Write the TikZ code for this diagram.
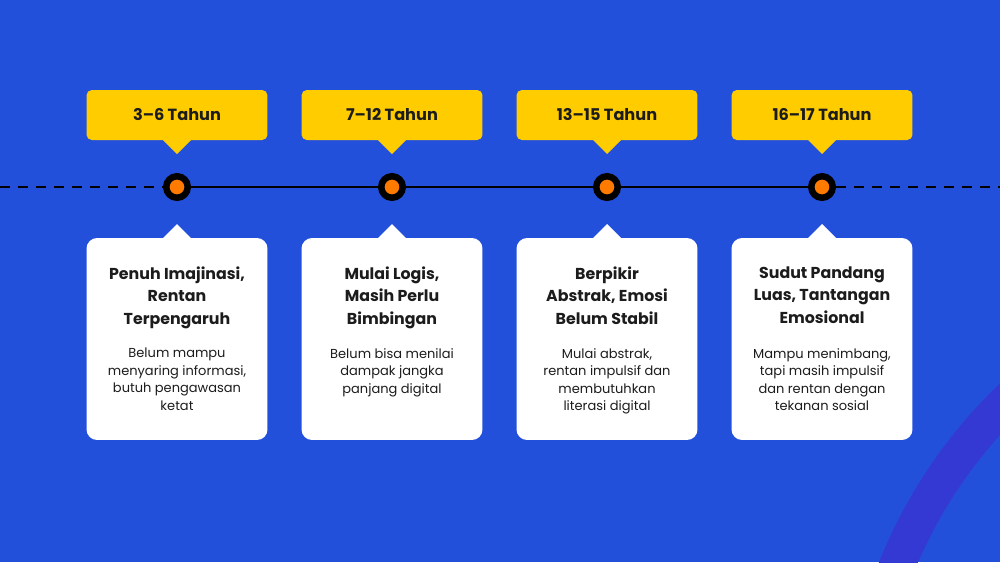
\documentclass[tikz,border=0pt]{standalone}
\usepackage{fontspec}
\setmainfont{Poppins}
\usepackage{tikz}
\usetikzlibrary{positioning}

\definecolor{bgblue}{HTML}{2350DB}
\definecolor{arcblue}{HTML}{3339D2}
\definecolor{tagyellow}{HTML}{FFCC00}
\definecolor{dotorange}{HTML}{FF7A00}
\definecolor{ink}{HTML}{1C1C1C}

\tikzset{
  tag/.style={fill=tagyellow, rounded corners=3pt, minimum width=3.62cm,
    minimum height=1cm, text=ink, font=\bfseries\fontsize{9.2}{11}\selectfont},
  card/.style={fill=white, rounded corners=6pt, minimum width=3.62cm,
    minimum height=4.04cm},
  dot/.style={circle, fill=dotorange, draw=black, line width=0.13cm,
    minimum size=0.43cm, inner sep=0pt},
  ttl/.style={anchor=north, inner sep=0pt, align=center, text=ink,
    font=\bfseries\fontsize{9}{12.8}\selectfont},
  bd/.style={anchor=north, inner sep=0pt, align=center, text=ink,
    font=\fontsize{7.4}{9.9}\selectfont},
  timeline/.style={black, line width=0.05cm},
  dashline/.style={timeline, dash pattern=on 0.2cm off 0.16cm}
}

\begin{document}
\begin{tikzpicture}[x=0.02cm, y=-0.02cm]
    \fill[bgblue] (0,0) rectangle (1000,562);
    \begin{scope}
      \clip (0,0) rectangle (1000,562);
      \draw[arcblue, line width=0.72cm] (1350,750) circle [radius=9.78cm];
    \end{scope}
    \useasboundingbox (0,0) rectangle (1000,562);

    \foreach \n/\x/\yr/\head/\txt in {
      1/177/{3–6 Tahun}/{Penuh Imajinasi,\\Rentan\\Terpengaruh}/{Belum mampu\\menyaring informasi,\\butuh pengawasan\\ketat},
      2/392/{7–12 Tahun}/{Mulai Logis,\\Masih Perlu\\Bimbingan}/{Belum bisa menilai\\dampak jangka\\panjang digital},
      3/607/{13–15 Tahun}/{Berpikir\\Abstrak, Emosi\\Belum Stabil}/{Mulai abstrak,\\rentan impulsif dan\\membutuhkan\\literasi digital},
      4/822/{16–17 Tahun}/{Sudut Pandang\\Luas, Tantangan\\Emosional}/{Mampu menimbang,\\tapi masih impulsif\\dan rentan dengan\\tekanan sosial}}
    {
      \node[tag] (tag\n) at (\x,115) {\yr};
      \fill[tagyellow] (\x-15,139) -- (\x+15,139) -- (\x,154) -- cycle;
      \node[card] (card\n) at (\x,339) {};
      \fill[white] (\x-15,239) -- (\x,224) -- (\x+15,239) -- cycle;
      \node[ttl] (head\n) at (\x,266) {\head};
      \node[bd] (txt\n) at (\x,348) {\txt};
      \node[dot] (d\n) at (\x,187) {};
    }

    \coordinate (lend) at (0,187);
    \coordinate (rend) at (1000,187);
    \draw[dashline] (lend) -- (d1);
    \draw[timeline] (d1) -- (d2);
    \draw[timeline] (d2) -- (d3);
    \draw[timeline] (d3) -- (d4);
    \draw[dashline] (d4) -- (rend);
\end{tikzpicture}
\end{document}
